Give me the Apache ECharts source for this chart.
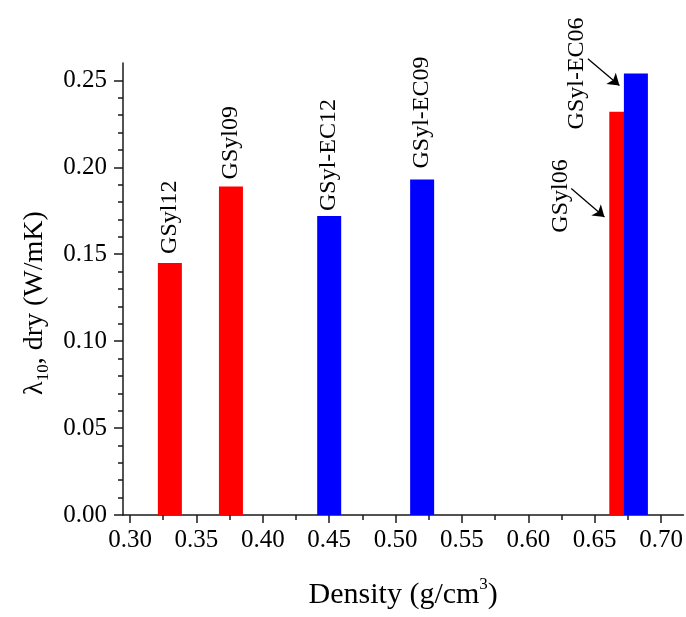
<!DOCTYPE html>
<html>
<head>
<meta charset="utf-8">
<script src="https://cdn.jsdelivr.net/npm/echarts@6/dist/echarts.min.js"></script>
<style>
html,body{margin:0;padding:0;background:#ffffff;}
#chart{width:686px;height:617px;}
</style>
</head>
<body>
<div id="chart"></div>
<script>
// ---- data ----
const redNames = ['GSyl12', 'GSyl09', 'GSyl06'];
const redDensity = [0.330, 0.376, 0.670];
const redLambda = [0.145, 0.189, 0.232];

const blueNames = ['GSyl-EC12', 'GSyl-EC09', 'GSyl-EC06'];
const blueDensity = [0.450, 0.520, 0.681];
const blueLambda = [0.172, 0.193, 0.254];

const xTickValues = [0.30, 0.35, 0.40, 0.45, 0.50, 0.55, 0.60, 0.65, 0.70];
const xMinorValues = [0.325, 0.375, 0.425, 0.475, 0.525, 0.575, 0.625, 0.675];
const yTickValues = [0.00, 0.05, 0.10, 0.15, 0.20, 0.25];
const yMinorValues = [0.01, 0.02, 0.03, 0.04, 0.06, 0.07, 0.08, 0.09, 0.11, 0.12, 0.13, 0.14,
                      0.16, 0.17, 0.18, 0.19, 0.21, 0.22, 0.23, 0.24];

// annotation arrows (data coordinates): [from, to]
const arrowGSyl06 = [[0.6323, 0.1878], [0.6573, 0.1714]];
const arrowGSylEC06 = [[0.6448, 0.2625], [0.6686, 0.2471]];

// ---- styles ----
const FONT = '"Liberation Serif", "Times New Roman", serif';
const AXIS_COLOR = '#1a1a1a';
// label offsets are in the rotated (90°) label frame: [-screenDy, screenDx]
const redLabelStyle = [{ distance: 9 }, { distance: 7 }, { distance: 0, offset: [-121, -61] }];
const blueLabelStyle = [{ distance: 5 }, { distance: 11 }, { distance: 0, offset: [-56, -59] }];

function barData(xs, ys, names, styles) {
  return xs.map((x, i) => ({
    value: [x, ys[i]],
    name: names[i],
    label: Object.assign({}, styles[i])
  }));
}

const X_MIN = 0.2947, X_MAX = 0.7168, Y_MIN = 0, Y_MAX = 0.26;

const baseLabel = {
  show: true,
  position: 'top',
  rotate: 90,
  align: 'left',
  verticalAlign: 'middle',
  formatter: p => p.name,
  color: '#000',
  fontFamily: FONT,
  fontSize: 24
};

const chart = echarts.init(document.getElementById('chart'), null, { renderer: 'canvas' });
chart.setOption({
  backgroundColor: '#ffffff',
  animation: false,
  grid: { left: 123, right: 0, top: 63, bottom: 102, containLabel: false },
  xAxis: [
    {
      type: 'value', min: X_MIN, max: X_MAX, position: 'bottom',
      name: '{t|Density (g/cm}{p|3}{t|)}', nameLocation: 'middle', nameGap: 61,
      nameTextStyle: {
        rich: {
          t: { fontFamily: FONT, fontSize: 30, color: '#000', lineHeight: 38, verticalAlign: 'middle' },
          p: { fontFamily: FONT, fontSize: 17, color: '#000', lineHeight: 38, verticalAlign: 'top' }
        }
      },
      axisLine: { show: true, onZero: false, lineStyle: { color: AXIS_COLOR, width: 1.5 } },
      axisTick: { show: true, inside: false, length: 8, customValues: xTickValues,
                  lineStyle: { color: AXIS_COLOR, width: 1.5 } },
      axisLabel: { show: true, customValues: xTickValues, margin: 13,
                   formatter: v => v.toFixed(2), fontFamily: FONT, fontSize: 25, color: '#000' },
      splitLine: { show: false }
    },
    {
      type: 'value', min: X_MIN, max: X_MAX, position: 'bottom',
      axisLine: { show: false, onZero: false },
      axisTick: { show: true, inside: false, length: 5, customValues: xMinorValues,
                  lineStyle: { color: AXIS_COLOR, width: 1.5 } },
      axisLabel: { show: false },
      splitLine: { show: false }
    }
  ],
  yAxis: [
    {
      type: 'value', min: Y_MIN, max: Y_MAX, position: 'left',
      name: '{t|λ}{s|10}{t|, dry (W/mK)}', nameLocation: 'middle', nameGap: 66,
      nameTextStyle: {
        padding: [0, 28, 0, 0],
        rich: {
          t: { fontFamily: FONT, fontSize: 28, color: '#000', lineHeight: 36, verticalAlign: 'middle' },
          s: { fontFamily: FONT, fontSize: 17, color: '#000', lineHeight: 36, verticalAlign: 'bottom' }
        }
      },
      axisLine: { show: true, onZero: false, lineStyle: { color: AXIS_COLOR, width: 1.5 } },
      axisTick: { show: true, inside: false, length: 9, customValues: yTickValues,
                  lineStyle: { color: AXIS_COLOR, width: 1.5 } },
      axisLabel: { show: true, customValues: yTickValues, margin: 16,
                   formatter: v => v.toFixed(2), fontFamily: FONT, fontSize: 25, color: '#000' },
      splitLine: { show: false }
    },
    {
      type: 'value', min: Y_MIN, max: Y_MAX, position: 'left',
      axisLine: { show: false, onZero: false },
      axisTick: { show: true, inside: false, length: 5, customValues: yMinorValues,
                  lineStyle: { color: AXIS_COLOR, width: 1.5 } },
      axisLabel: { show: false },
      splitLine: { show: false }
    }
  ],
  series: [
    {
      name: 'GSyl', type: 'bar', xAxisIndex: 0, yAxisIndex: 0,
      barWidth: 24, barGap: '-100%',
      itemStyle: { color: '#ff0000' },
      label: baseLabel,
      data: barData(redDensity, redLambda, redNames, redLabelStyle)
    },
    {
      name: 'GSyl-EC', type: 'bar', xAxisIndex: 0, yAxisIndex: 0,
      barWidth: 24, barGap: '-100%',
      itemStyle: { color: '#0000ff' },
      label: baseLabel,
      data: barData(blueDensity, blueLambda, blueNames, blueLabelStyle)
    },
    {
      type: 'lines', coordinateSystem: 'cartesian2d', xAxisIndex: 0, yAxisIndex: 0,
      clip: false, silent: true,
      symbol: ['none', 'arrow'], symbolSize: [7, 11],
      lineStyle: { color: '#000', width: 1.3, opacity: 1 },
      data: [{ coords: arrowGSyl06 }, { coords: arrowGSylEC06 }],
      z: 5
    }
  ]
});
</script>
</body>
</html>
